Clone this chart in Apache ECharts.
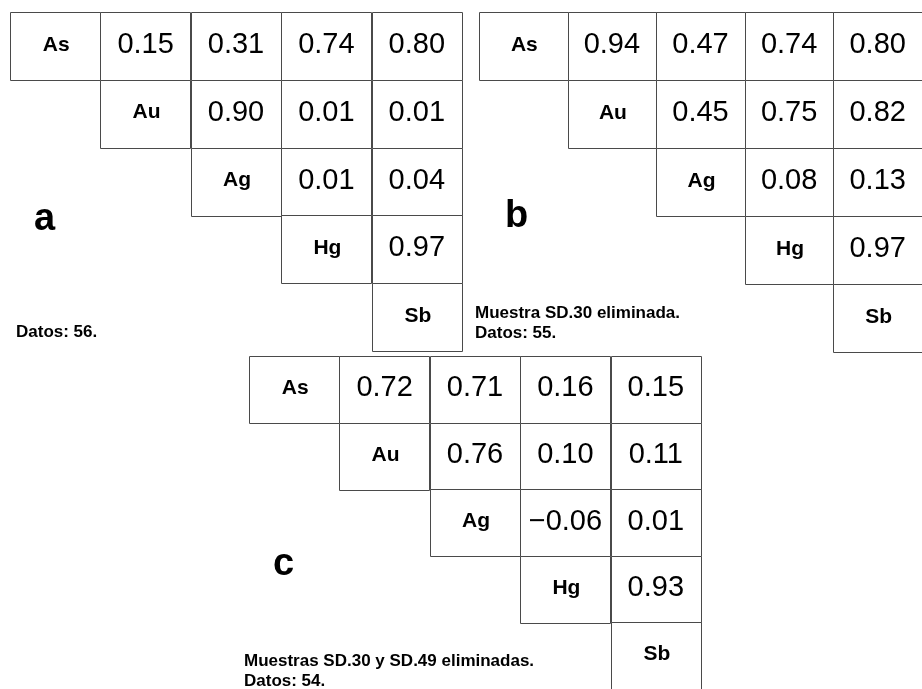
<!DOCTYPE html>
<html>
<head>
<meta charset="utf-8">
<script src="https://cdn.jsdelivr.net/npm/echarts@6/dist/echarts.min.js"></script>
<style>html,body{margin:0;padding:0;background:#fff}#chart{width:922px;height:689px}</style>
</head>
<body>
<div id="chart"></div>
<script>
// Element names (diagonal labels / categories)
var elements = ['As', 'Au', 'Ag', 'Hg', 'Sb'];
// Upper-triangle correlation values, row by row
var corrA = [[0.15, 0.31, 0.74, 0.80], [0.90, 0.01, 0.01], [0.01, 0.04], [0.97]];
var corrB = [[0.94, 0.47, 0.74, 0.80], [0.45, 0.75, 0.82], [0.08, 0.13], [0.97]];
var corrC = [[0.72, 0.71, 0.16, 0.15], [0.76, 0.10, 0.11], [-0.06, 0.01], [0.93]];
var panelLetters = ['a', 'b', 'c'];
var captionA = ['Datos: 56.'];
var captionB = ['Muestra SD.30 eliminada.', 'Datos: 55.'];
var captionC = ['Muestras SD.30 y SD.49 eliminadas.', 'Datos: 54.'];

var FONT = 'Liberation Sans';

function fmt(v) {
  var s = Math.abs(v).toFixed(2);
  return v < 0 ? '\u2212' + s : s;
}

function buildCells(corr) {
  var cells = [];
  for (var r = 0; r < elements.length; r++) {
    cells.push({ value: [r, r], txt: elements[r], isLabel: true });
    if (r < corr.length) {
      for (var k = 0; k < corr[r].length; k++) {
        var c = r + 1 + k;
        cells.push({ value: [c, r], txt: fmt(corr[r][k]), isLabel: false });
      }
    }
  }
  return cells;
}

var panels = [buildCells(corrA), buildCells(corrB), buildCells(corrC)];

function makeRender(cells) {
  return function (params, api) {
    var cell = cells[params.dataIndex];
    var p = api.coord([api.value(0), api.value(1)]);
    var s = api.size([1, 1]);
    var x = p[0] - s[0] / 2, y = p[1] - s[1] / 2;
    return {
      type: 'group',
      children: [
        { type: 'rect', shape: { x: Math.round(x) + 0.5, y: Math.round(y) + 0.5, width: Math.round(s[0]), height: Math.round(s[1]) },
          style: { fill: '#fff', stroke: '#4a4a4a', lineWidth: 1 } },
        { type: 'text', z2: 10,
          style: { text: cell.txt, x: p[0] + (cell.isLabel ? 1 : 0), y: p[1] - 1, align: 'center', verticalAlign: 'middle',
            fontSize: cell.isLabel ? 21 : 29, fontWeight: cell.isLabel ? 'bold' : 'normal',
            fontFamily: FONT, fill: '#000' } }
      ]
    };
  };
}

var grids = [
  { left: 10, top: 12, width: 452, height: 339 },
  { left: 479, top: 12, width: 455, height: 340 },
  { left: 249, top: 356, width: 452, height: 337 }
];

var xAxes = [], yAxes = [], series = [];
for (var i = 0; i < 3; i++) {
  xAxes.push({ type: 'category', gridIndex: i, data: elements, show: false });
  yAxes.push({ type: 'category', gridIndex: i, data: elements, inverse: true, show: false });
  series.push({
    type: 'custom', xAxisIndex: i, yAxisIndex: i, clip: false,
    renderItem: makeRender(panels[i]),
    data: panels[i].map(function (d) { return d.value; }),
    silent: true
  });
}

function txt(t, x, baseline, size) {
  return { type: 'text', x: x, y: baseline - Math.round(size * 0.35),
    style: { text: t, fontSize: size, fontWeight: 'bold', fontFamily: FONT, fill: '#000', verticalAlign: 'middle', align: 'left' } };
}

var graphics = [
  txt(panelLetters[0], 34, 233, 38),
  txt(panelLetters[1], 505, 230, 38),
  txt(panelLetters[2], 273, 578, 38),
  txt(captionA[0], 16, 338, 17),
  txt(captionB[0], 475, 319, 17),
  txt(captionB[1], 475, 339, 17),
  txt(captionC[0], 244, 667, 17),
  txt(captionC[1], 244, 687, 17)
];

var chart = echarts.init(document.getElementById('chart'), null, { renderer: 'canvas' });
chart.setOption({
  animation: false,
  backgroundColor: '#fff',
  grid: grids,
  xAxis: xAxes,
  yAxis: yAxes,
  series: series,
  graphic: graphics
});
</script>
</body>
</html>
